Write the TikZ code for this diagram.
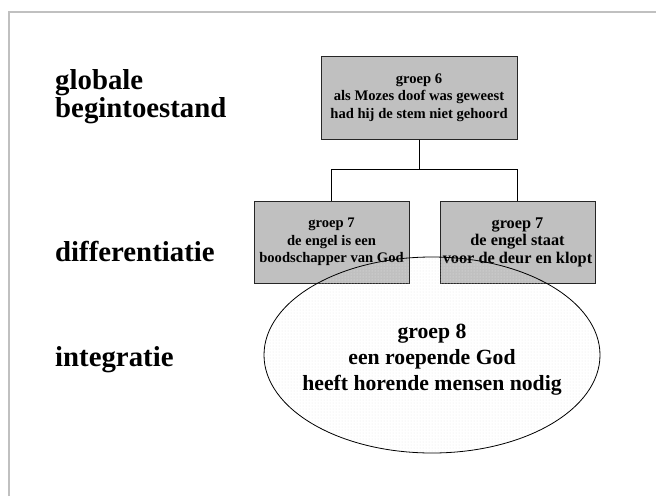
\documentclass[tikz,border=0pt]{standalone}
\usepackage{fontspec}
\setmainfont{Liberation Serif}
\usetikzlibrary{shapes.geometric,patterns}
\definecolor{boxgray}{HTML}{C0C0C0}
\definecolor{framegray}{HTML}{C0C0C0}
\begin{document}
\begin{tikzpicture}[x=1pt,y=-1pt,
  lbl/.style={anchor=west,align=left,inner sep=0pt,font=\bfseries\fontsize{28.8}{28}\selectfont},
  box/.style={draw=black!85,line width=1pt,fill=boxgray,align=center,inner sep=0pt,
              minimum width=155pt,minimum height=82pt,font=\bfseries\fontsize{14.6}{17.5}\selectfont},
  conn/.style={draw=black,line width=1pt},
  frameline/.style={draw=framegray,line width=2pt},
  oval/.style={ellipse,draw=black,line width=0.8pt,pattern=dots,pattern color=black!10,
               minimum width=336pt,minimum height=196pt,inner sep=0pt},
  ovaltext/.style={align=center,inner sep=0pt,font=\bfseries\fontsize{21.7}{26}\selectfont}]
\useasboundingbox (0,0) rectangle (656,496);
\draw[frameline] (9,496) -- (9,12) -- (656,12);

\node[lbl] (g) at (55,96.5) {globale\\begintoestand};
\node[lbl,anchor=base west] (d) at (55,261) {differentiatie};
\node[lbl,anchor=base west] (i) at (55,366) {integratie};

\node[box,minimum width=196pt,minimum height=83pt] (top) at (419,97.5)
  {groep 6\\als Mozes doof was geweest\\had hij de stem niet gehoord};
\node[box] (l7) at (331.5,242) {groep 7\\de engel is een\\boodschapper van God};
\node[box,font=\bfseries\fontsize{16.3}{17.5}\selectfont] (r7) at (517.5,242)
  {groep 7\\de engel staat\\voor de deur en klopt};

\draw[conn] (top.south) -- ++(0,30) -| (l7.north);
\draw[conn] (top.south) -- ++(0,30) -| (r7.north);

\node[oval] (e8) at (432,355) {};
\node[ovaltext] (t8) at (432,360) {groep 8\\een roepende God\\heeft horende mensen nodig};
\end{tikzpicture}
\end{document}
